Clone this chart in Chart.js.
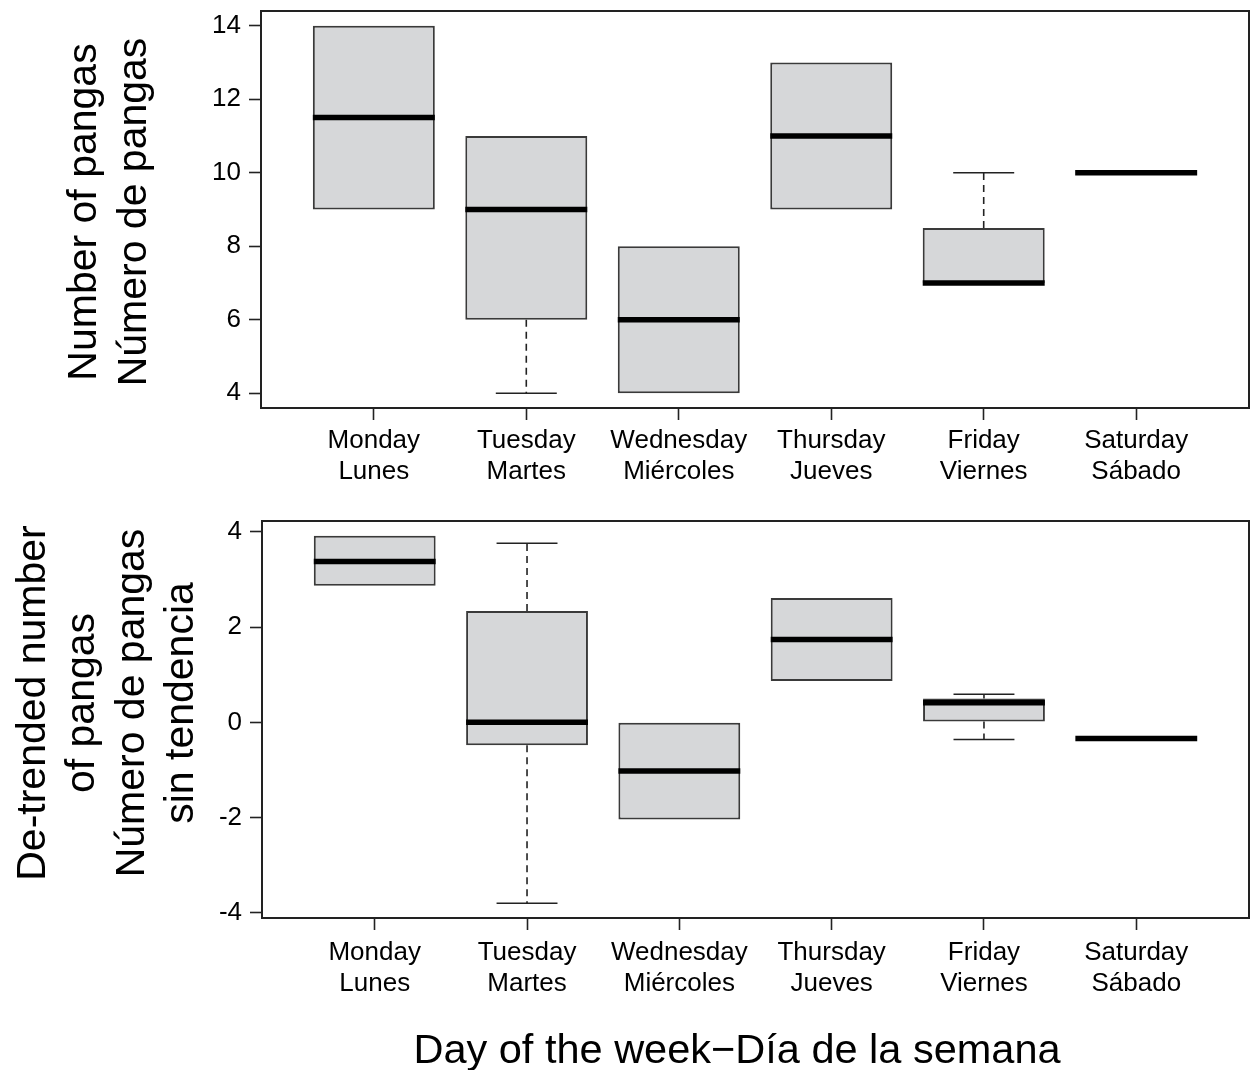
<!DOCTYPE html>
<html>
<head>
<meta charset="utf-8">
<script src="https://cdn.jsdelivr.net/npm/chart.js@4.4.1/dist/chart.umd.min.js"></script>
<style>
  html, body { margin: 0; padding: 0; background: #fff; }
  #wrap { position: relative; width: 1250px; height: 1070px; }
  #top-box { position: absolute; left: 0; top: 0; width: 1250px; height: 500px; }
  #bottom-box { position: absolute; left: 0; top: 500px; width: 1250px; height: 570px; }
</style>
</head>
<body>
<div id="wrap">
  <div id="top-box"><canvas id="pangas"></canvas></div>
  <div id="bottom-box"><canvas id="detrended"></canvas></div>
</div>
<script>
// Dias de la semana (dos lineas: ingles / español)
const days = [
  ["Monday", "Lunes"],
  ["Tuesday", "Martes"],
  ["Wednesday", "Miércoles"],
  ["Thursday", "Jueves"],
  ["Friday", "Viernes"],
  ["Saturday", "Sábado"],
];

// Numero de pangas (panel de arriba)
const pangasMin = [9, 4, 4, 9, 7, 10];
const pangasQ1 = [9, 6, 4, 9, 7, 10];
const pangasMedian = [11.5, 9, 6, 11, 7, 10];
const pangasQ3 = [14, 11, 8, 13, 8.5, 10];
const pangasMax = [14, 11, 8, 13, 10, 10];
const pangasTicks = [4, 6, 8, 10, 12, 14];

// Numero de pangas sin tendencia (panel de abajo)
const detrendMin = [2.87, -3.8, -2.04, 0.87, -0.36, -0.34];
const detrendQ1 = [2.87, -0.48, -2.04, 0.87, 0.02, -0.34];
const detrendMedian = [3.38, 0, -1.02, 1.74, 0.41, -0.34];
const detrendQ3 = [3.92, 2.34, 0, 2.61, 0.5, -0.34];
const detrendMax = [3.92, 3.76, 0, 2.61, 0.59, -0.34];
const detrendTicks = [-4, -2, 0, 2, 4];

const FONT = "'Liberation Sans', Arial, Helvetica, sans-serif";
const INK = "#222222";

//Plugin: marco, medianas, bigotes y titulos
const boxPlotExtras = {
  id: "boxPlotExtras",
  afterDatasetsDraw(chart, args, opts) {
    const ctx = chart.ctx;
    const x = chart.scales.x;
    const y = chart.scales.y;
    const meta = chart.getDatasetMeta(0);
    ctx.save();
    opts.median.forEach((med, i) => {
      const cx = x.getPixelForValue(i + 1);
      const half = meta.data[i].width / 2;
      // bigotes
      ctx.strokeStyle = INK;
      ctx.lineWidth = 1.6;
      const ends = [
        [opts.q3[i], opts.max[i]],
        [opts.q1[i], opts.min[i]],
      ];
      ends.forEach(([from, to]) => {
        if (from === to) return;
        ctx.setLineDash([7, 5]);
        ctx.beginPath();
        ctx.moveTo(cx, y.getPixelForValue(from));
        ctx.lineTo(cx, y.getPixelForValue(to));
        ctx.stroke();
        ctx.setLineDash([]);
        ctx.beginPath();
        ctx.moveTo(cx - half / 2, y.getPixelForValue(to));
        ctx.lineTo(cx + half / 2, y.getPixelForValue(to));
        ctx.stroke();
      });
      // mediana
      ctx.strokeStyle = "#000";
      ctx.lineWidth = 5.5;
      ctx.beginPath();
      ctx.moveTo(cx - half, y.getPixelForValue(med));
      ctx.lineTo(cx + half, y.getPixelForValue(med));
      ctx.stroke();
    });
    // marco del grafico
    const a = chart.chartArea;
    ctx.strokeStyle = INK;
    ctx.lineWidth = 2;
    ctx.strokeRect(a.left, a.top, a.right - a.left, a.bottom - a.top);
    ctx.restore();
  },
  afterDraw(chart, args, opts) {
    const ctx = chart.ctx;
    ctx.save();
    ctx.fillStyle = "#000";
    ctx.textBaseline = "alphabetic";
    ctx.textAlign = "center";
    ctx.font = "41px " + FONT;
    opts.yTitle.forEach((line, i) => {
      ctx.save();
      ctx.translate(opts.yTitleX[i], opts.yTitleCenter);
      ctx.rotate(-Math.PI / 2);
      ctx.fillText(line, 0, 0);
      ctx.restore();
    });
    if (opts.xTitle) {
      ctx.font = "41.5px " + FONT;
      ctx.fillText(opts.xTitle, opts.xTitlePos[0], opts.xTitlePos[1]);
    }
    ctx.restore();
  },
};

//Creacion de un panel de cajas
function makeBoxChart(canvasId, stats, ticks, layout, titles) {
  const n = days.length;
  const all = stats.min.concat(stats.max);
  const lo = Math.min(...all);
  const hi = Math.max(...all);
  const pad = (hi - lo) * 0.04;
  return new Chart(document.getElementById(canvasId), {
    type: "bar",
    plugins: [boxPlotExtras],
    data: {
      datasets: [
        {
          data: stats.q1.map((q, i) => ({ x: i + 1, y: [q, stats.q3[i]] })),
          backgroundColor: "#d6d7d9",
          borderColor: "#3a3a3a",
          borderWidth: 2,
          borderSkipped: false,
          barPercentage: 0.8,
          categoryPercentage: 1,
        },
      ],
    },
    options: {
      responsive: true,
      maintainAspectRatio: false,
      animation: false,
      layout: { padding: layout.padding },
      plugins: {
        legend: { display: false },
        tooltip: { enabled: false },
        boxPlotExtras: Object.assign({}, stats, titles),
      },
      scales: {
        x: {
          type: "linear",
          offset: false,
          min: 0.5 - 0.04 * n,
          max: n + 0.5 + 0.04 * n,
          afterBuildTicks: (s) => {
            s.ticks = days.map((d, i) => ({ value: i + 1 }));
          },
          afterFit: (s) => {
            s.height = layout.xHeight;
            s.paddingLeft = 0;
            s.paddingRight = 0;
          },
          ticks: {
            autoSkip: false,
            maxRotation: 0,
            padding: layout.xPad,
            color: "#000",
            font: { family: FONT, size: 26, lineHeight: 1.17 },
            callback: (v) => days[v - 1],
          },
          grid: {
            display: true,
            offset: false,
            drawOnChartArea: false,
            drawTicks: true,
            tickLength: 12,
            tickWidth: 1.6,
            tickColor: INK,
          },
          border: { display: false },
        },
        y: {
          min: lo - pad,
          max: hi + pad,
          afterBuildTicks: (s) => {
            s.ticks = ticks.map((v) => ({ value: v }));
          },
          afterFit: (s) => {
            s.width = layout.yWidth;
            s.paddingTop = 0;
            s.paddingBottom = 0;
          },
          ticks: {
            padding: 8,
            color: "#000",
            font: { family: FONT, size: 26 },
          },
          grid: {
            display: true,
            drawOnChartArea: false,
            drawTicks: true,
            tickLength: 12,
            tickWidth: 1.6,
            tickColor: INK,
          },
          border: { display: false },
        },
      },
    },
  });
}

makeBoxChart(
  "pangas",
  { min: pangasMin, q1: pangasQ1, median: pangasMedian, q3: pangasQ3, max: pangasMax },
  pangasTicks,
  { padding: { top: 11, right: 1, left: 0, bottom: 0 }, xHeight: 92, yWidth: 261, xPad: 6 },
  {
    yTitle: ["Number of pangas", "Número de pangas"],
    yTitleX: [96, 146],
    yTitleCenter: 212,
  }
);

makeBoxChart(
  "detrended",
  { min: detrendMin, q1: detrendQ1, median: detrendMedian, q3: detrendQ3, max: detrendMax },
  detrendTicks,
  { padding: { top: 21, right: 1, left: 0, bottom: 0 }, xHeight: 152, yWidth: 262, xPad: 8 },
  {
    yTitle: ["De-trended number", "of pangas", "Número de pangas", "sin tendencia"],
    yTitleX: [45, 94, 144, 193],
    yTitleCenter: 203,
    xTitle: "Day of the week\u2212Día de la semana",
    xTitlePos: [737, 563],
  }
);
</script>
</body>
</html>
